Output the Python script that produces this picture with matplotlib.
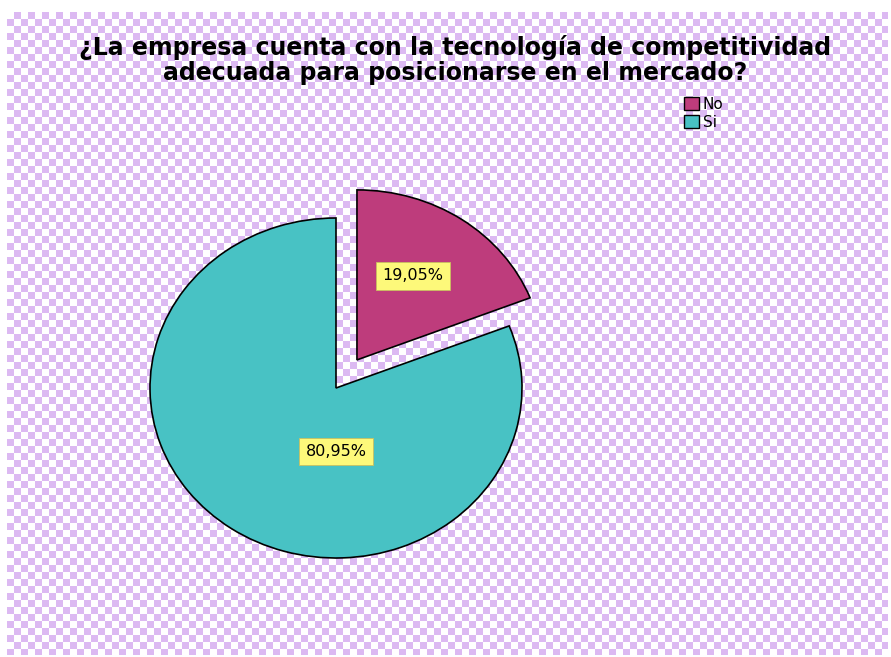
import matplotlib
matplotlib.use("Agg")
import matplotlib.pyplot as plt
from matplotlib.colors import ListedColormap
from matplotlib.patches import Patch
import numpy as np

labels = ["No", "Si"]
values = [19.05, 80.95]
pct_text = ["19,05%", "80,95%"]
colors = ["#be3c7c", "#48c2c4"]
title = "¿La empresa cuenta con la tecnología de competitividad\nadecuada para posicionarse en el mercado?"

plt.rcParams["font.family"] = ["DejaVu Sans"]

W, H = 891, 657
fig = plt.figure(figsize=(W / 100, H / 100), dpi=100)
fig.patch.set_facecolor("white")

# checkered background (pixel frame)
bx0, bx1, by0, by1 = 7, 888, 12, 655
bg = fig.add_axes([bx0 / W, 1 - by1 / H, (bx1 - bx0) / W, (by1 - by0) / H])
cell = 7
nx = (bx1 - bx0) // cell + 1
ny = (by1 - by0) // cell + 1
chk = (np.add.outer(np.arange(ny), np.arange(nx)) % 2).astype(float)
bg.imshow(chk, cmap=ListedColormap(["#ffffff", "#dcb9f2"]), interpolation="nearest",
          aspect="auto", extent=(0, nx * cell, ny * cell, 0))
bg.set_xlim(0, bx1 - bx0)
bg.set_ylim(by1 - by0, 0)
bg.axis("off")

# pie axes over the whole figure, ellipse radii 186 x 170 px, center (336, 388)
cx, cy, rx, ry = 336, 388, 186, 170
ax = fig.add_axes([0, 0, 1, 1])
ax.patch.set_alpha(0)
wedges, texts, autos = ax.pie(values, colors=colors, startangle=90, counterclock=False,
                              explode=[0.2, 0], autopct=lambda p: "",
                              pctdistance=0.58,
                              wedgeprops=dict(edgecolor="black", linewidth=1.2))
ax.set_aspect("auto")
ax.set_xlim((0 - cx) / rx, (W - cx) / rx)
ax.set_ylim((cy - H) / ry, cy / ry)
ax.axis("off")

for t, s in zip(autos, pct_text):
    t.set_text(s)
    t.set_fontsize(11.5)
    t.set_bbox(dict(boxstyle="square,pad=0.38", facecolor="#fdf97a", edgecolor="#c8c060", linewidth=0.6))
autos[0].set_position((0.414, 0.659))
autos[1].set_position((0.0, -0.376))

fig.text(455 / W, 1 - 60 / H, title, ha="center", va="center", fontsize=17,
         fontweight="bold", linespacing=1.02)

handles = [Patch(facecolor=c, edgecolor="black", linewidth=1.0) for c in colors]
fig.legend(handles, labels, loc="upper left", bbox_to_anchor=(673 / W, 1 - 86 / H),
           frameon=False, fontsize=11, handlelength=1.0, handleheight=1.0,
           handletextpad=0.25, labelspacing=0.2, borderpad=0.2)

fig.savefig("out.png", dpi=100)
